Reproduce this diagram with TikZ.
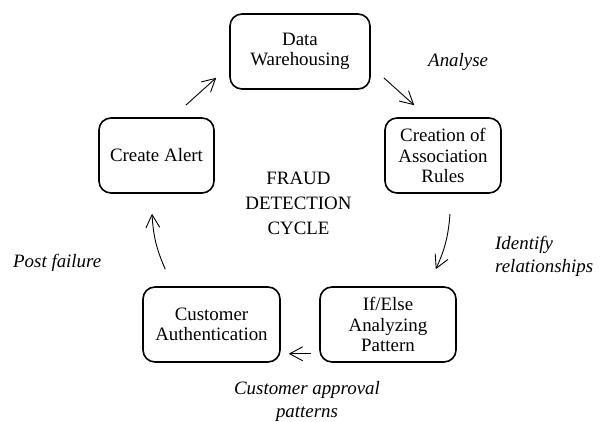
\documentclass[tikz,border=0pt]{standalone}
\usepackage{fontspec}
\setmainfont{Liberation Serif}
\usetikzlibrary{arrows.meta}
\begin{document}
\begin{tikzpicture}[x=1pt,y=1pt,
  stagebox/.style={draw, line width=1.6pt, rounded corners=12pt, minimum height=75pt,
    align=center, inner sep=2pt, font=\fontsize{18.9}{20.5}\selectfont},
  arr/.style={line width=0.9pt, -{Straight Barb[length=13pt,width=14pt,line width=0.9pt]}},
  lbl/.style={font=\fontsize{18.9}{23}\selectfont\itshape, inner sep=0pt}]
\fill[white] (0,0) rectangle (606,422);
\useasboundingbox (0,0) rectangle (606,422);

\node[stagebox, minimum width=140pt] (dw) at (300,370.5) {Data\\Warehousing};
\node[stagebox, minimum width=116pt] (cr) at (443,266.5) {Creation of\\Association\\Rules};
\node[stagebox, minimum width=136pt] (ie) at (388,97.5) {If/Else\\Analyzing\\Pattern};
\node[stagebox, minimum width=137pt] (cu) at (211.5,97.5) {Customer\\Authentication};
\node[stagebox, minimum width=115pt] (al) at (156.5,266.5) {Create Alert};

\node[align=center, inner sep=0pt, font=\fontsize{18.9}{25}\selectfont] (title) at (298.5,219) {FRAUD\\DETECTION\\CYCLE};

\node[lbl, anchor=west] (lan) at (428,360) {Analyse};
\node[lbl, anchor=west, align=left] (lid) at (495,165.5) {Identify\\relationships};
\node[lbl, align=center] (lcu) at (307,20.5) {Customer approval\\patterns};
\node[lbl, anchor=west] (lpf) at (13,159) {Post failure};

\draw[arr] ([xshift=-29pt,yshift=12pt]al.north east) -- ([xshift=-13pt,yshift=12pt]dw.south west);
\draw[arr] ([xshift=13pt,yshift=12pt]dw.south east) -- ([xshift=30pt,yshift=12pt]cr.north west);
\draw[arr] ([xshift=7pt,yshift=-20pt]cr.south) to[bend left=10] ([xshift=-21pt,yshift=17pt]ie.north east);
\draw[arr] ([xshift=-8pt,yshift=9pt]ie.south west) -- ([xshift=8pt,yshift=9pt]cu.south east);
\draw[arr] ([xshift=23pt,yshift=17pt]cu.north west) to[bend left=10] ([xshift=-4.5pt,yshift=-20pt]al.south);
\end{tikzpicture}
\end{document}
